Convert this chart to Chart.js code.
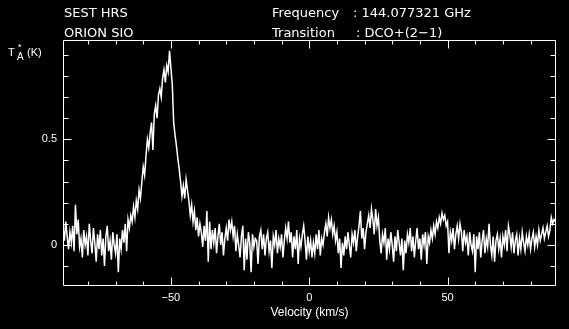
<!DOCTYPE html>
<html>
<head>
<meta charset="utf-8">
<script src="https://cdn.jsdelivr.net/npm/chart.js@4.4.0/dist/chart.umd.min.js"></script>
<style>
  html, body { margin: 0; padding: 0; background: #000; }
  #wrap { width: 569px; height: 329px; }
</style>
</head>
<body>
<div id="wrap"><canvas id="specChart"></canvas></div>
<script>
// channel grid (km/s)
const vStart = -89;
const vStep = 0.5;

// antenna temperature T_A* (K), one row per 10 km/s of channels
const antennaTemp = [
  0.08, 0.02, 0.11, 0.04, -0.02, 0.06, 0.01, 0.09, -0.03, 0.19, 0.05, 0.12, -0.01, 0.03, -0.06, 0.07, 0.00, 0.04, -0.05, 0.10,
  0.02, -0.04, 0.08, 0.01, -0.08, 0.05, -0.02, 0.07, -0.05, 0.03, -0.10, 0.04, 0.09, -0.03, 0.02, -0.07, 0.06, 0.00, -0.04, 0.05,
  -0.13, 0.03, -0.02, 0.07, 0.01, 0.10, -0.03, 0.12, 0.08, 0.14, 0.11, 0.18, 0.13, 0.21, 0.17, 0.26, 0.22, 0.30, 0.37, 0.33,
  0.42, 0.50, 0.46, 0.53, 0.58, 0.45, 0.62, 0.66, 0.60, 0.71, 0.74, 0.70, 0.79, 0.83, 0.77, 0.85, 0.82, 0.92, 0.84, 0.76,
  0.58, 0.52, 0.47, 0.41, 0.36, 0.30, 0.23, 0.28, 0.22, 0.31, 0.26, 0.21, 0.14, 0.19, 0.11, 0.16, 0.07, 0.13, 0.04, 0.10,
  0.06, -0.01, 0.09, 0.02, 0.16, -0.08, 0.11, -0.02, 0.07, 0.01, 0.08, -0.04, 0.04, 0.10, 0.00, 0.06, -0.05, 0.03, 0.08, 0.02,
  0.12, 0.07, 0.11, 0.04, 0.09, -0.03, 0.05, 0.00, -0.06, 0.04, 0.09, -0.12, 0.03, -0.07, 0.06, 0.01, -0.13, 0.05, -0.01, 0.03,
  0.02, -0.09, 0.04, 0.07, -0.02, 0.05, -0.05, 0.03, 0.06, -0.03, 0.02, -0.11, 0.04, 0.00, 0.07, -0.04, 0.03, -0.01, 0.05, -0.06,
  0.02, 0.08, 0.03, 0.11, 0.01, 0.06, -0.06, 0.04, -0.02, 0.07, -0.09, 0.03, -0.01, 0.05, 0.09, 0.02, -0.07, 0.04,
  -0.03, 0.02, -0.06, 0.01, -0.04, 0.05, -0.02, 0.07, -0.05, 0.03, 0.00, 0.06, 0.10, 0.04, 0.13, 0.08, 0.12, 0.05, 0.09, 0.02,
  0.06, -0.04, 0.03, -0.11, 0.01, -0.05, 0.04, -0.02, 0.06, 0.00, -0.06, 0.05, 0.01, 0.07, -0.03, 0.04, 0.09, 0.16, 0.03, 0.08,
  -0.02, 0.06, 0.10, 0.14, 0.08, 0.17, 0.12, 0.05, 0.17, 0.09, 0.13, 0.02, -0.04, 0.05, 0.01, 0.08, -0.07, 0.03, -0.02, 0.06,
  0.00, -0.08, 0.04, -0.03, 0.07, 0.01, -0.05, 0.03, -0.12, 0.02, -0.04, 0.05, 0.01, 0.08, -0.03, 0.04, -0.06, 0.02, 0.08, -0.02,
  0.03, -0.07, 0.05, 0.00, 0.06, -0.09, 0.04, 0.01, 0.07, 0.03, 0.09, 0.05, 0.11, 0.08, 0.13, 0.10, 0.15, 0.12, 0.14, 0.09,
  0.11, -0.04, 0.06, 0.02, 0.08, -0.02, 0.05, 0.09, 0.03, 0.10, 0.06, -0.03, 0.07, 0.01, 0.04, -0.05, 0.06, 0.00, -0.03, 0.05,
  -0.13, 0.04, -0.02, 0.06, -0.06, 0.02, 0.07, -0.04, 0.03, -0.01, 0.10, 0.00, -0.05, 0.04, -0.08, 0.02, 0.05, -0.02, 0.03, -0.06,
  0.04, 0.00, 0.07, -0.03, 0.09, 0.05, -0.01, 0.06, -0.04, 0.02, 0.05, -0.05, 0.03, -0.02, 0.06, 0.01, -0.03, 0.04, 0.00, 0.05,
  -0.02, 0.03, 0.06, -0.01, 0.04, 0.00, 0.07, 0.02, 0.05, 0.08, 0.03, 0.06, 0.09, 0.04, 0.07, 0.13, 0.10, 0.12, 0.11
];

const xRange = [-89, 89.2];
const yRange = [-0.195, 0.971];
const xMajorTicks = [-50, 0, 50];
const xMinorTicks = [-80, -70, -60, -40, -30, -20, -10, 10, 20, 30, 40, 60, 70, 80];
const yMajorTicks = [0, 0.5];
const yMinorTicks = [-0.1, 0.1, 0.2, 0.3, 0.4, 0.6, 0.7, 0.8, 0.9];

const headerLeft = ["SEST HRS", "ORION SIO"];
const headerKeys = ["Frequency", "Transition"];
const headerValues = [": 144.077321 GHz", ": DCO+(2\u22121)"];

const FONT = "'Liberation Sans', Arial, sans-serif";
const HEAD_FONT = "'DejaVu Sans', sans-serif";

const points = antennaTemp.map((t, i) => ({ x: vStart + i * vStep, y: t }));

// inward ticks on all four sides plus the box
const frameTicks = {
    id: "frameTicks",
    afterDatasetsDraw(chart) {
        const { ctx, chartArea: a, scales: { x, y } } = chart;
        const L = Math.round(a.left) + 0.5, R = Math.round(a.right) - 0.5;
        const T = Math.round(a.top) + 0.5, B = Math.round(a.bottom) - 0.5;
        ctx.save();
        ctx.strokeStyle = "#fff";
        ctx.lineWidth = 1;
        ctx.beginPath();
        ctx.rect(L, T, R - L, B - T);
        const xt = (v, len) => {
            const px = Math.round(x.getPixelForValue(v)) + 0.5;
            ctx.moveTo(px, T); ctx.lineTo(px, T + len);
            ctx.moveTo(px, B); ctx.lineTo(px, B - len);
        };
        const yt = (v, len) => {
            const py = Math.round(y.getPixelForValue(v)) + 0.5;
            ctx.moveTo(L, py); ctx.lineTo(L + len, py);
            ctx.moveTo(R, py); ctx.lineTo(R - len, py);
        };
        xMajorTicks.forEach(v => xt(v, 8));
        xMinorTicks.forEach(v => xt(v, 4));
        yMajorTicks.forEach(v => yt(v, 8));
        yMinorTicks.forEach(v => yt(v, 5));
        ctx.stroke();
        ctx.restore();
    },
    afterDraw(chart) {
        const ctx = chart.ctx;
        ctx.save();
        ctx.fillStyle = "#fff";
        ctx.textBaseline = "middle";
        ctx.font = "13px " + HEAD_FONT;
        ctx.fillText(headerLeft[0], 64, 14);
        ctx.fillText(headerLeft[1], 64, 34);
        ctx.fillText(headerKeys[0], 272, 14);
        ctx.fillText(headerKeys[1], 272, 34);
        ctx.fillText(headerValues[0], 353, 14);
        ctx.fillText(headerValues[1], 356, 34);
        // T_A* (K)
        ctx.font = "11px " + FONT;
        ctx.fillText("T", 8, 53);
        ctx.fillText("(K)", 27, 53);
        ctx.font = "10px " + FONT;
        ctx.fillText("A", 17, 57);
        ctx.font = "9px " + FONT;
        ctx.fillText("*", 18, 48);
        ctx.restore();
    }
};

const chart = new Chart(document.getElementById("specChart"), {
    type: "line",
    data: {
        datasets: [{
            data: points,
            borderColor: "#fff",
            borderWidth: 1.5,
            pointRadius: 0,
            tension: 0,
            fill: false
        }]
    },
    options: {
        responsive: true,
        maintainAspectRatio: false,
        animation: false,
        layout: { padding: { top: 40, right: 13, left: 0, bottom: 0 } },
        plugins: {
            legend: { display: false },
            tooltip: { enabled: false }
        },
        scales: {
            x: {
                type: "linear",
                min: xRange[0],
                max: xRange[1],
                afterBuildTicks: s => { s.ticks = xMajorTicks.map(v => ({ value: v })); },
                afterFit: s => { s.height = 43; },
                grid: { display: false, drawTicks: false },
                border: { display: false },
                ticks: {
                    color: "#fff",
                    padding: 5,
                    maxRotation: 0,
                    font: { family: FONT, size: 11 },
                    callback: v => (v < 0 ? "\u2212" + Math.abs(v) : String(v))
                },
                title: {
                    display: true,
                    text: "Velocity (km/s)",
                    color: "#fff",
                    font: { family: FONT, size: 12 },
                    padding: { top: 0, bottom: 9 }
                }
            },
            y: {
                type: "linear",
                min: yRange[0],
                max: yRange[1],
                afterBuildTicks: s => { s.ticks = yMajorTicks.map(v => ({ value: v })); },
                afterFit: s => { s.width = 63; },
                grid: { display: false, drawTicks: false },
                border: { display: false },
                ticks: {
                    color: "#fff",
                    padding: 6,
                    font: { family: FONT, size: 11 },
                    callback: v => String(v)
                }
            }
        }
    },
    plugins: [frameTicks]
});
</script>
</body>
</html>
